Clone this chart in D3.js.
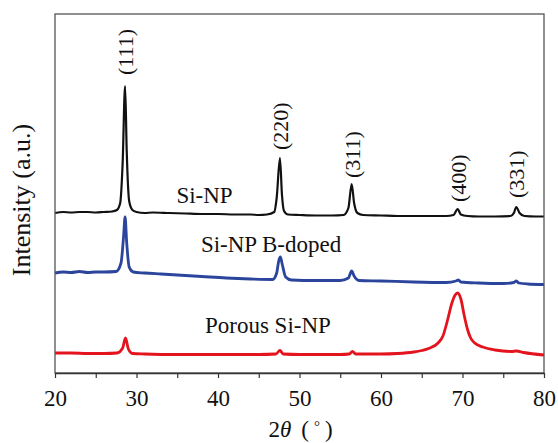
<!DOCTYPE html>
<html>
<head>
<meta charset="utf-8">
<script src="https://cdn.jsdelivr.net/npm/d3@7"></script>
<style>
  body { margin: 0; background: #fff; }
  svg text { font-family: "Liberation Serif", "Times New Roman", serif; fill: #111; }
</style>
</head>
<body>
<div id="chart"></div>
<script>
// 2theta values (deg) and intensities (a.u., already offset per trace)
const siNP = [
	[20,160],[21,161],[22,160.5],[23,161],[24,161],[25,160.5],[26,161],[27,161.5],[27.6,163],
	[28.0,170],[28.3,210],[28.6,287],[28.8,222],[29.1,172],[29.5,163],[30,161],[31,160],
	[32,160.5],[34,160],[36,159.5],[38,159],[40,159],[42,158.5],[44,158.5],[45,158],[46,158.5],
	[46.9,161],[47.2,175],[47.6,215],[47.85,178],[48.1,162],[48.6,158.5],[50,158],[52,157.5],
	[54,157.5],[55.4,158],[56.0,165],[56.4,189],[56.7,170],[57.1,160],[57.8,158],[60,157.5],
	[62,157],[64,157],[66,157],[68,157],[68.9,158],[69.4,164],[69.8,158.5],[70.6,157],[72,156.5],
	[74,156.5],[75.9,157],[76.3,160],[76.6,166],[77.0,160],[77.6,157],[79,156.5],[80,156.5]
];
const siNPBdoped = [
	[20,100],[21,101],[22,100.5],[23,101.5],[24,100.5],[25,101],[26,101],[27.5,101.5],
	[28.1,110],[28.4,135],[28.6,156],[28.8,130],[29.1,106],[29.6,101],[31,100],[33,99],
	[35,98],[38,96.5],[41,95],[44,94],[46.7,93.5],[47.2,100],[47.45,112],[47.65,116],[47.9,108],
	[48.3,96],[49,93],[52,92.5],[55,92.5],[56.0,95],[56.4,102],[56.7,97],[57.3,92.5],[60,92],
	[64,91],[68,90.5],[69.2,92],[69.5,93],[69.8,91],[72,90],[75,89.5],[76.3,90.5],[76.6,92],
	[76.9,90],[78,89],[80,88.5]
];
const porousSiNP = [
	[20,20],[22,20],[24,19.5],[26,19.5],[27.6,20],[28.3,25],[28.65,35],[29.0,24],[29.5,19.5],
	[31,19],[35,18.5],[40,18.5],[45,18.5],[47.1,19],[47.6,22.5],[48.0,19],[50,18.5],[55,18.5],
	[56.1,19],[56.5,21.5],[56.9,19],[60,19],[62,19.5],[64,21],[65,22.5],[66,25],[67,30],
	[67.6,37],[68.2,54],[68.7,70],[69.1,78],[69.4,80],[69.8,74],[70.2,58],[70.6,44],[71.0,35],
	[71.5,30],[72.5,26],[74,23],[76,21.5],[76.6,22],[77.5,20.5],[80,18]
];

const seriesNames = ["Si-NP", "Si-NP B-doped", "Porous Si-NP"];
const seriesColors = ["#111111", "#2b449c", "#e3141e"];
const seriesData = [siNP, siNPBdoped, porousSiNP];
// label anchor: [2theta, intensity] of the text baseline start
const seriesLabelPos = [[34.9, 170], [37.9, 121], [38.4, 40]];

const peakLabels = ["(111)", "(220)", "(311)", "(400)", "(331)"];
const peakPos = [28.6, 47.6, 56.4, 69.4, 76.6];
const peakLabelBase = [298, 223, 195, 171, 175];

const xTicks = [20, 30, 40, 50, 60, 70, 80];
const xMinorTicks = [25, 35, 45, 55, 65, 75];

const serif = '"Liberation Serif", "Times New Roman", serif';

var margin = {top: 14, right: 14, bottom: 70, left: 55},
	width = 558 - margin.left - margin.right,
	height = 443 - margin.top - margin.bottom;

var x = d3.scaleLinear().domain([20, 80]).range([0, width]);
var y = d3.scaleLinear().domain([0, height]).range([height, 0]);

var svg = d3.select("#chart").append("svg")
	.attr("width", 558)
	.attr("height", 443)
	.attr("font-family", serif);

var chart = svg.append("g")
	.attr("transform", "translate(" + margin.left + "," + margin.top + ")");

// traces
var line = d3.line()
	.x(d => x(d[0]))
	.y(d => y(d[1]))
	.curve(d3.curveMonotoneX);

chart.selectAll(".trace")
	.data(seriesData)
	.enter()
	.append("path")
	.attr("class", "trace")
	.attr("d", line)
	.attr("fill", "none")
	.attr("stroke", (d, i) => seriesColors[i])
	.attr("stroke-width", (d, i) => i == 0 ? 2.2 : 2.8)
	.attr("stroke-linejoin", "round");

// frame
chart.append("rect")
	.attr("width", width)
	.attr("height", height)
	.attr("fill", "none")
	.attr("stroke", "#555")
	.attr("stroke-width", 1.3);

// x axis (ticks point outward)
var xAxis = d3.axisBottom(x)
	.tickValues(xTicks)
	.tickSizeInner(5)
	.tickSizeOuter(0)
	.tickPadding(12)
	.tickFormat(d3.format("d"));

var X = chart.append("g")
	.attr("transform", "translate(0," + height + ")")
	.call(xAxis)
	.attr("font-family", serif)
	.attr("font-size", 23);
X.select(".domain").attr("stroke", "#333").attr("stroke-width", 1.3);
X.selectAll(".tick line").attr("stroke", "#333").attr("stroke-width", 1.2);
X.selectAll("text")
	.attr("fill", "#111")
	.style("font-family", serif);

chart.append("g")
	.attr("transform", "translate(0," + height + ")")
	.call(d3.axisBottom(x).tickValues(xMinorTicks).tickSize(5).tickFormat(""))
	.call(g => g.select(".domain").remove())
	.selectAll("line").attr("stroke", "#333").attr("stroke-width", 1.2);

// peak labels (rotated)
chart.selectAll(".peak")
	.data(peakLabels)
	.enter()
	.append("text")
	.attr("class", "peak")
	.attr("transform", (d, i) => "translate(" + (x(peakPos[i]) + 8) + "," + y(peakLabelBase[i]) + ") rotate(-90)")
	.attr("font-size", 22)
	.text(d => d);

// series labels
chart.selectAll(".slabel")
	.data(seriesNames)
	.enter()
	.append("text")
	.attr("class", "slabel")
	.attr("x", (d, i) => x(seriesLabelPos[i][0]))
	.attr("y", (d, i) => y(seriesLabelPos[i][1]))
	.attr("font-size", 23)
	.text(d => d);

// axis titles
var xt = svg.append("text")
	.attr("x", margin.left + width / 2 + 1)
	.attr("y", 437)
	.attr("text-anchor", "middle")
	.attr("font-size", 23);
xt.append("tspan").text("2");
xt.append("tspan").attr("font-style", "italic").text("θ");
xt.append("tspan").attr("dx", 10).text("(");
xt.append("tspan").attr("dx", 5).attr("dy", -6).attr("font-size", 15).text("°");
xt.append("tspan").attr("dx", 5).attr("dy", 6).text(")");

svg.append("text")
	.attr("transform", "translate(30," + 200 + ") rotate(-90)")
	.attr("text-anchor", "middle")
	.attr("font-size", 26)
	.text("Intensity (a.u.)");
</script>
</body>
</html>
